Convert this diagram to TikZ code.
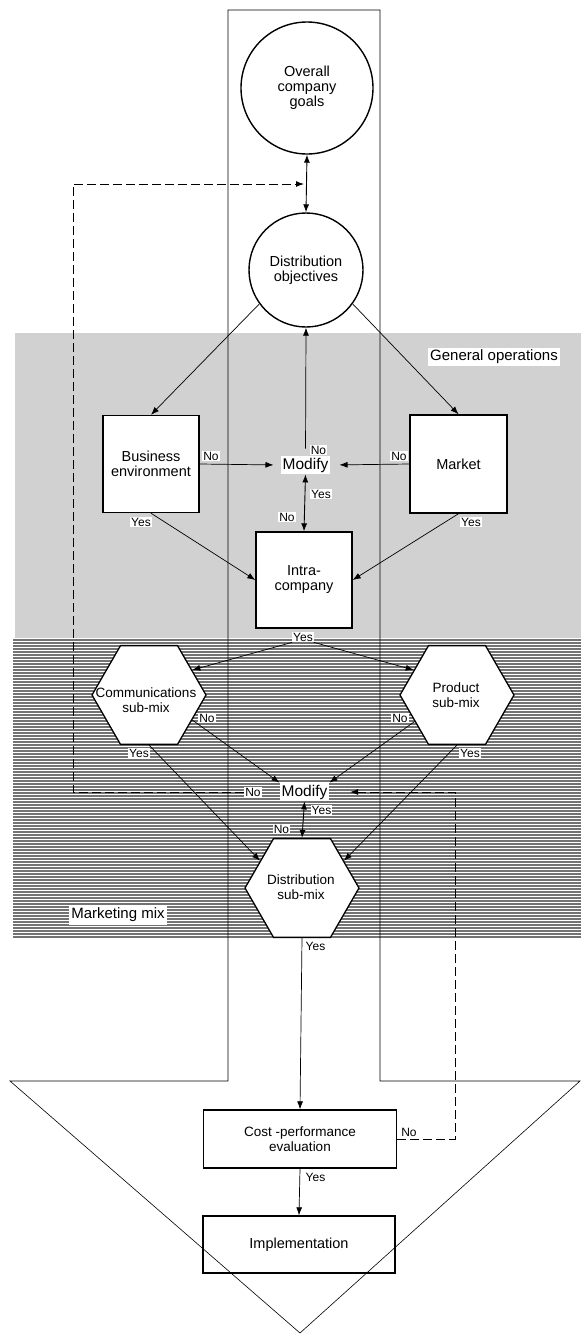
\documentclass[tikz,border=0pt]{standalone}
\usepackage{fontspec}
\setmainfont{Liberation Sans}
\usetikzlibrary{shapes.geometric,arrows.meta}
\newcommand\ndfont{\fontsize{14.5}{15}\selectfont}
\newcommand\hxfont{\fontsize{13.5}{14.5}\selectfont}
\newcommand\lbfont{\fontsize{12}{13}\selectfont}
\newcommand\mdfont{\fontsize{15.5}{17}\selectfont}
\newcommand\hdfont{\fontsize{15}{17}\selectfont}
\begin{document}
\begin{tikzpicture}[x=1pt,y=-1pt,
  circ/.style={circle, draw, line width=1.4pt, fill=white, inner sep=0pt, align=center, font=\ndfont},
  rbox/.style={rectangle, draw, line width=1.4pt, fill=white, inner sep=0pt, align=center, font=\ndfont},
  hexa/.style={regular polygon, regular polygon sides=6, draw, line width=1.3pt, fill=white, minimum size=114pt, inner sep=0pt},
  htext/.style={align=center, font=\hxfont, inner sep=0pt},
  lbl/.style={fill=white, inner sep=1pt, font=\lbfont},
  modf/.style={fill=white, inner sep=2pt, font=\mdfont},
  head/.style={fill=white, inner sep=2.5pt, font=\hdfont},
  arr/.style={-{Latex[length=8pt,width=6pt]}, line width=0.7pt},
  dbl/.style={{Latex[length=8pt,width=6pt]}-{Latex[length=8pt,width=6pt]}, line width=0.9pt},
  fb/.style={-{Latex[length=8pt,width=6pt]}, dash pattern=on 9pt off 4pt, line width=1pt},
  stripe/.style={black!55, line width=1.1pt},
  outline/.style={line width=0.6pt}
]
\useasboundingbox (0,0) rectangle (581,1334);

% shaded band: general operations
\fill[black!18] (15,333) rectangle (581,638);
% striped band: marketing mix
\foreach \yy in {640,643,...,938} \draw[stripe] (13,\yy) -- (581,\yy);

% large arrow outline
\draw[outline] (228,10) -- (380,10) -- (380,1081) -- (580,1081) -- (300,1333)
  -- (10,1081) -- (228,1081) -- cycle;

% band titles
\node[head] (genops) at (494,357) {General operations};
\node[head] (mktmix) at (118,915) {Marketing mix};

% top level
\node[circ, minimum size=132pt] (goals) at (307,88) {Overall\\company\\goals};
\node[circ, minimum size=114pt] (obj) at (306,270) {Distribution\\objectives};

% general operations
\node[rbox, minimum width=96pt, minimum height=97pt] (bus) at (151,464) {Business\\environment};
\node[rbox, minimum width=97pt, minimum height=98pt] (mkt) at (458.5,464) {Market};
\node[rbox, minimum width=96pt, minimum height=96pt] (intra) at (304,580) {Intra-\\company};
\node[modf] (mod1) at (305.5,465) {Modify};

% marketing mix
\node[hexa] (comm) at (149,695) {};
\node[htext] (commtxt) at (146,700) {Communications\\sub-mix};
\node[hexa] (prod) at (457,695) {};
\node[htext] (prodtxt) at (456,695) {Product\\sub-mix};
\node[hexa] (dsub) at (302,888) {};
\node[htext] (dsubtxt) at (301,887) {Distribution\\sub-mix};
\node[modf] (mod2) at (304.5,792) {Modify};
\node[lbl] (no2) at (253,792) {No};

% evaluation
\node[rbox, minimum width=193pt, minimum height=58pt, font=\hxfont] (cost) at (300,1139) {Cost -performance\\evaluation};
\node[rectangle, draw, line width=1.4pt, minimum width=192pt, minimum height=57pt, font=\fontsize{14.5}{16}\selectfont] (impl) at (299,1244.5) {Implementation};

% feedback ends
\coordinate (fbcorner) at (73,184);
\coordinate (fbtip) at (304,184);
\coordinate (fbright) at (455,792);
\coordinate (fbrtip) at (350,792);

% connectors
\draw[dbl] (goals.south) -- (obj.north);
\draw[arr] (obj.216) -- (bus.north);
\draw[arr] (obj.-36) -- (mkt.north);
\draw[arr, shorten <=7pt] (mod1.north) -- (obj.south);
\draw[arr, shorten >=7pt] (bus.east) -- (mod1.west);
\draw[arr, shorten >=9pt] (mkt.west) -- (mod1.east);
\draw[dbl] (mod1.south) -- (intra.north);
\draw[arr] (bus.south) -- (intra.west);
\draw[arr] (mkt.south) -- (intra.east);

\node[lbl] (iyes) at (303,637) {Yes};
\draw[arr] (iyes.south west) -- (comm.30);
\draw[arr] (iyes.south east) -- (prod.150);
\draw[arr] (comm.-30) -- (mod2.north west);
\draw[arr] (prod.212) -- (mod2.north east);
\draw[arr] (comm.south) -- (dsub.147);
\draw[arr] (prod.south) -- (dsub.33);
\draw[dbl] (mod2.south) -- (dsub.north);
\draw[arr] (dsub.south) -- (cost.north);
\draw[arr] (cost.south) -- (impl.north);

\draw[fb] (no2.west) -| (fbcorner) -- (fbtip);
\draw[fb] (cost.east) -| (fbright) -- (fbrtip);

% decision labels
\node[lbl] (busno) at (211,456) {No};
\node[lbl] (mktno) at (399,456) {No};
\node[lbl] (m1no) at (318.5,450) {No};
\node[lbl] (m1yes) at (321,494) {Yes};
\node[lbl] (inno) at (287,517) {No};
\node[lbl] (busyes) at (141,522) {Yes};
\node[lbl] (mktyes) at (471,522) {Yes};
\node[lbl] (commno) at (207,718) {No};
\node[lbl] (prodno) at (400,718) {No};
\node[lbl] (commyes) at (139,753) {Yes};
\node[lbl] (prodyes) at (470,753) {Yes};
\node[lbl] (m2yes) at (321.5,810) {Yes};
\node[lbl] (dsno) at (281.5,829) {No};
\node[lbl] (dsyes) at (315.5,946) {Yes};
\node[lbl, fill=none] (costno) at (409,1132) {No};
\node[lbl, fill=none] (costyes) at (315.5,1177) {Yes};
\end{tikzpicture}
\end{document}
